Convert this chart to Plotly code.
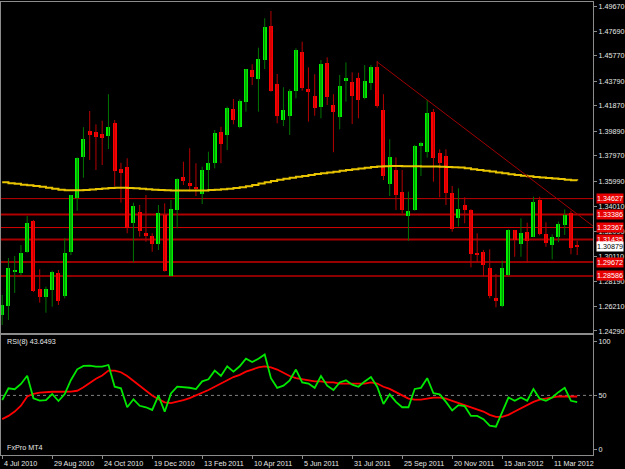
import pandas as pd
import plotly.graph_objects as go

# ---------------- data ----------------
DATES = pd.date_range('2010-07-04', periods=93, freq='7D')

OPEN = [1.2554, 1.2624, 1.2893, 1.2882, 1.3048, 1.3288, 1.2755, 1.2692, 1.2749, 1.2884,
        1.2702, 1.3048, 1.3470, 1.3788, 1.3991, 1.3983, 1.3967, 1.3954, 1.4051, 1.3694,
        1.3707, 1.3270, 1.3361, 1.3192, 1.3173, 1.3106, 1.3335, 1.2858, 1.3374, 1.3634,
        1.3583, 1.3556, 1.3497, 1.3686, 1.3743, 1.3981, 1.3960, 1.4165, 1.4024, 1.4220,
        1.4467, 1.4397, 1.4545, 1.4813, 1.4356, 1.4077, 1.4110, 1.4306, 1.4605, 1.4317,
        1.4267, 1.4181, 1.4524, 1.4194, 1.4103, 1.4389, 1.4371, 1.4407, 1.4246, 1.4368,
        1.4488, 1.4155, 1.3575, 1.3686, 1.3517, 1.3329, 1.3374, 1.3874, 1.3825, 1.4142,
        1.3817, 1.3796, 1.3504, 1.3309, 1.3413, 1.3374, 1.3038, 1.3048, 1.2923, 1.2689,
        1.2624, 1.2866, 1.3218, 1.3106, 1.3204, 1.3165, 1.3452, 1.3184, 1.3100, 1.3165,
        1.3257, 1.3353, 1.3098]
HIGH = [1.2710, 1.2999, 1.3015, 1.3100, 1.3327, 1.3296, 1.2911, 1.2775, 1.2900, 1.2905,
        1.3153, 1.3491, 1.3785, 1.4020, 1.4147, 1.4043, 1.4071, 1.4278, 1.4077, 1.3743,
        1.3778, 1.3431, 1.3413, 1.3491, 1.3192, 1.3413, 1.3426, 1.3452, 1.3621, 1.3751,
        1.3856, 1.3739, 1.3712, 1.3829, 1.3999, 1.4024, 1.4181, 1.4241, 1.4238, 1.4475,
        1.4512, 1.4641, 1.4871, 1.4928, 1.4436, 1.4332, 1.4317, 1.4637, 1.4688, 1.4488,
        1.4434, 1.4545, 1.4566, 1.4278, 1.4428, 1.4527, 1.4449, 1.4446, 1.4506, 1.4506,
        1.4538, 1.4278, 1.3926, 1.3785, 1.3686, 1.3517, 1.3882, 1.3907, 1.4233, 1.4163,
        1.3848, 1.3848, 1.3561, 1.3543, 1.3473, 1.3380, 1.3192, 1.3062, 1.3067, 1.2874,
        1.2978, 1.3223, 1.3218, 1.3309, 1.3275, 1.3478, 1.3478, 1.3278, 1.3184, 1.3283,
        1.3379, 1.3368, 1.3134]
LOW = [1.2476, 1.2515, 1.2726, 1.2866, 1.3040, 1.2733, 1.2650, 1.2572, 1.2619, 1.2632,
       1.2684, 1.3022, 1.3368, 1.3626, 1.3765, 1.3686, 1.3725, 1.3850, 1.3561, 1.3431,
       1.3192, 1.2966, 1.3165, 1.3126, 1.3048, 1.3062, 1.2892, 1.2858, 1.3231, 1.3569,
       1.3517, 1.3483, 1.3421, 1.3517, 1.3699, 1.3739, 1.3843, 1.4043, 1.4012, 1.4142,
       1.4350, 1.4142, 1.4475, 1.4298, 1.4051, 1.4030, 1.3960, 1.4246, 1.4306, 1.4064,
       1.4110, 1.4090, 1.4194, 1.3825, 1.4004, 1.4220, 1.4046, 1.4090, 1.4238, 1.4311,
       1.4173, 1.3608, 1.3483, 1.3374, 1.3348, 1.3134, 1.3368, 1.3639, 1.3783, 1.3595,
       1.3473, 1.3413, 1.3204, 1.3244, 1.3270, 1.2926, 1.2966, 1.2853, 1.2684, 1.2614,
       1.2614, 1.2858, 1.3009, 1.3009, 1.2962, 1.3161, 1.3176, 1.3087, 1.2989, 1.3122,
       1.3179, 1.3028, 1.3022]
CLOSE = [1.2632, 1.2921, 1.2900, 1.3038, 1.3275, 1.2741, 1.2692, 1.2755, 1.2890, 1.2666,
         1.3040, 1.3489, 1.3782, 1.3928, 1.3960, 1.3942, 1.3936, 1.4024, 1.3679, 1.3661,
         1.3231, 1.3405, 1.3212, 1.3178, 1.3106, 1.3353, 1.2898, 1.3379, 1.3614, 1.3600,
         1.3569, 1.3538, 1.3686, 1.3743, 1.3977, 1.3887, 1.4173, 1.4077, 1.4228, 1.4475,
         1.4415, 1.4551, 1.4801, 1.4306, 1.4108, 1.4155, 1.4306, 1.4623, 1.4329, 1.4298,
         1.4173, 1.4512, 1.4254, 1.4142, 1.4345, 1.4402, 1.4264, 1.4233, 1.4384, 1.4488,
         1.4186, 1.3639, 1.3790, 1.3491, 1.3374, 1.3366, 1.3874, 1.3900, 1.4134, 1.3778,
         1.3739, 1.3509, 1.3223, 1.3382, 1.3374, 1.3030, 1.3025, 1.2944, 1.2702, 1.2666,
         1.2919, 1.3218, 1.3140, 1.3192, 1.3132, 1.3439, 1.3184, 1.3114, 1.3161, 1.3265,
         1.3335, 1.3080, 1.3088]
MA = [1.3590, 1.3582, 1.3579, 1.3571, 1.3568, 1.3562, 1.3556, 1.3548, 1.3540, 1.3532,
      1.3528, 1.3528, 1.3528, 1.3530, 1.3534, 1.3538, 1.3542, 1.3546, 1.3548, 1.3548,
      1.3546, 1.3544, 1.3540, 1.3536, 1.3532, 1.3530, 1.3528, 1.3527, 1.3527, 1.3527,
      1.3527, 1.3527, 1.3527, 1.3530, 1.3532, 1.3535, 1.3540, 1.3545, 1.3552, 1.3560,
      1.3570, 1.3580, 1.3590, 1.3600, 1.3610, 1.3618, 1.3625, 1.3633, 1.3640, 1.3648,
      1.3655, 1.3660, 1.3667, 1.3673, 1.3680, 1.3686, 1.3692, 1.3698, 1.3704, 1.3709,
      1.3713, 1.3716, 1.3717, 1.3717, 1.3716, 1.3716, 1.3715, 1.3714, 1.3714, 1.3713,
      1.3712, 1.3710, 1.3708, 1.3705, 1.3700, 1.3693, 1.3687, 1.3680, 1.3674, 1.3667,
      1.3660, 1.3653, 1.3647, 1.3641, 1.3637, 1.3632, 1.3628, 1.3624, 1.3619, 1.3615,
      1.3611, 1.3607, 1.3604]
RSI = [45.7, 56.6, 55.7, 60.6, 68.3, 47.3, 45.1, 45.7, 51.3, 44.8,
       51.3, 64.3, 74.2, 77.3, 77.6, 76.6, 76.6, 78.2, 58.1, 56.6,
       39.0, 46.4, 40.4, 39.0, 36.5, 49.7, 34.9, 51.9, 58.1, 57.8,
       57.1, 55.9, 63.0, 65.0, 73.0, 68.0, 77.0, 72.0, 77.0, 84.0,
       81.0, 84.0, 88.0, 66.0, 57.0, 59.0, 64.0, 74.0, 62.0, 61.0,
       57.0, 68.0, 59.0, 55.0, 62.0, 64.0, 60.0, 58.0, 63.0, 67.0,
       58.0, 42.0, 51.0, 44.0, 39.0, 39.0, 56.0, 57.0, 66.0, 52.0,
       51.0, 44.0, 36.0, 41.0, 40.0, 31.0, 31.0, 28.0, 22.0, 21.0,
       34.0, 48.0, 45.0, 48.0, 45.0, 56.0, 47.0, 45.0, 48.0, 53.0,
       57.0, 45.0, 43.6493]
RSI_SIGNAL = [28.0, 31.0, 35.0, 40.5, 49.0, 51.5, 52.5, 53.2, 53.4, 53.4,
              53.3, 53.5, 54.3, 57.5, 61.5, 65.5, 68.5, 73.0, 73.0, 71.5,
              68.0, 63.6, 59.0, 54.5, 50.0, 46.5, 43.5, 42.8, 44.0, 45.7,
              47.5, 49.8, 52.0, 55.0, 58.0, 61.0, 64.0, 67.0, 69.0, 72.0,
              74.0, 76.0, 77.0, 76.0, 74.0, 71.0, 68.0, 66.0, 65.0, 64.0,
              63.0, 63.0, 62.0, 62.0, 61.0, 61.0, 61.0, 61.0, 61.0, 62.0,
              61.0, 58.0, 56.0, 53.0, 50.0, 47.0, 46.0, 46.0, 47.0, 48.0,
              48.0, 47.0, 45.0, 43.0, 41.0, 39.0, 37.0, 35.0, 32.0, 30.0,
              30.0, 32.0, 35.0, 38.0, 41.0, 44.0, 46.0, 47.0, 48.0, 49.0,
              49.0, 49.0, 49.0]

LEVELS = [1.34627, 1.33386, 1.32367, 1.31435, 1.29672, 1.28586]
LAST_PRICE = 1.30879
TREND_DATES = ['2011-08-28', '2011-10-23']
TREND_PRICES = [1.4530, 1.4233]

PRICE_TICKS = [1.49670, 1.47690, 1.45770, 1.43790, 1.41870, 1.39890, 1.37970,
               1.35990, 1.34010, 1.32090, 1.30110, 1.28190, 1.26210, 1.24290]
RSI_TICKS = [0, 50, 100]
TIME_TICKS = ['2010-07-04', '2010-08-29', '2010-10-24', '2010-12-19', '2011-02-13',
              '2011-04-10', '2011-06-05', '2011-07-31', '2011-09-25', '2011-11-20',
              '2012-01-15', '2012-03-11']
TIME_LABELS = ['4 Jul 2010', '29 Aug 2010', '24 Oct 2010', '19 Dec 2010', '13 Feb 2011',
               '10 Apr 2011', '5 Jun 2011', '31 Jul 2011', '25 Sep 2011', '20 Nov 2011',
               '15 Jan 2012', '11 Mar 2012']

# ---------------- styles ----------------
FONT = 'Liberation Sans'
FS = 7.2
TXT = '#E8E8E8'
FRAME = '#8C8C8C'
BULL_BODY, BEAR_BODY = '#00F000', '#FF0000'
BULL_WICK, BEAR_WICK = '#007400', '#B40000'
LEVEL_COLORS = ['#C00000', '#B00000', '#D80000', '#A80000', '#980000', '#8C0000']
LEVEL_WIDTHS = [1, 2, 1, 2, 2, 2]
X_RANGE = ['2010-07-02 15:45', '2012-04-25 16:48']
Y_RANGE = [1.24132, 1.49983]
RSI_RANGE = [-5.29, 106.03]
BODY_MS = 4.48 * 86400000

fig = go.Figure()

# wicks
for up, col in ((True, BULL_WICK), (False, BEAR_WICK)):
    xs, ys = [], []
    for d, o, h, l, c in zip(DATES, OPEN, HIGH, LOW, CLOSE):
        if (c >= o) == up:
            xs += [d, d, None]
            ys += [l, h, None]
    fig.add_trace(go.Scatter(x=xs, y=ys, mode='lines', line=dict(color=col, width=1),
                             hoverinfo='skip', showlegend=False, xaxis='x', yaxis='y'))

# bodies
bases = [min(o, c) for o, c in zip(OPEN, CLOSE)]
heights = [max(abs(c - o), 0.0008) for o, c in zip(OPEN, CLOSE)]
colors = [BULL_BODY if c >= o else BEAR_BODY for o, c in zip(OPEN, CLOSE)]
fig.add_trace(go.Bar(x=DATES, y=heights, base=bases, width=BODY_MS,
                     marker=dict(color=colors, line=dict(width=0)),
                     showlegend=False, xaxis='x', yaxis='y'))

# moving average
fig.add_trace(go.Scatter(x=DATES, y=MA, mode='lines', line=dict(color='#E8C400', width=2, shape='hv'),
                         showlegend=False, xaxis='x', yaxis='y'))

# RSI
fig.add_trace(go.Scatter(x=DATES, y=RSI_SIGNAL, mode='lines', line=dict(color='#FF0000', width=1.8),
                         showlegend=False, xaxis='x2', yaxis='y2'))
fig.add_trace(go.Scatter(x=DATES, y=RSI, mode='lines', line=dict(color='#00E800', width=1.8),
                         showlegend=False, xaxis='x2', yaxis='y2'))

shapes = []
for lv, col, w in zip(LEVELS, LEVEL_COLORS, LEVEL_WIDTHS):
    shapes.append(dict(type='line', xref='x domain', yref='y', x0=0, x1=1, y0=lv, y1=lv,
                       line=dict(color=col, width=w), layer='below'))
# trend line extended to the right edge
t0, t1 = pd.Timestamp(TREND_DATES[0]), pd.Timestamp(TREND_DATES[1])
slope = (TREND_PRICES[1] - TREND_PRICES[0]) / (t1 - t0).days
tend = pd.Timestamp(X_RANGE[1])
pend = TREND_PRICES[0] + slope * (tend - t0).total_seconds() / 86400
shapes.append(dict(type='line', xref='x', yref='y', x0=t0, y0=TREND_PRICES[0], x1=tend, y1=pend,
                   line=dict(color='#A00000', width=1)))
shapes.append(dict(type='line', xref='x2 domain', yref='y2', x0=0, x1=1, y0=50, y1=50,
                   line=dict(color='#808080', width=1, dash='dot'), layer='below'))

annotations = []
for lv in LEVELS:
    annotations.append(dict(xref='paper', x=1, xanchor='left', xshift=3, yref='y', y=lv,
                            text=f'{lv:.5f}', showarrow=False, bgcolor='#E80000',
                            font=dict(family=FONT, size=FS, color='#FFFFFF'), borderpad=0))
annotations.append(dict(xref='paper', x=1, xanchor='left', xshift=3, yref='y', y=LAST_PRICE,
                        text=f'{LAST_PRICE:.5f}', showarrow=False, bgcolor='#FFFFFF',
                        font=dict(family=FONT, size=FS, color='#000000'), borderpad=0))
for d, lab in zip(TIME_TICKS, TIME_LABELS):
    annotations.append(dict(xref='x2', x=d, xanchor='left', xshift=0, yref='paper', y=0,
                            yanchor='top', yshift=-2, text=lab, showarrow=False,
                            font=dict(family=FONT, size=FS, color=TXT)))
annotations.append(dict(xref='paper', x=0, xanchor='left', xshift=4, yref='y2 domain', y=1,
                        yanchor='top', yshift=0, text=f'RSI(8) {RSI[-1]:.4f}', showarrow=False,
                        font=dict(family=FONT, size=FS, color=TXT)))
annotations.append(dict(xref='paper', x=0, xanchor='left', xshift=4, yref='y2 domain', y=0,
                        yanchor='bottom', yshift=1, text='FxPro MT4', showarrow=False,
                        font=dict(family=FONT, size=FS, color=TXT)))

axis_common = dict(showgrid=False, zeroline=False, showline=True, linecolor=FRAME, linewidth=1,
                   mirror=True)
fig.update_layout(
    width=625, height=469,
    margin=dict(l=1, r=32, t=2, b=14),
    paper_bgcolor='#000000', plot_bgcolor='#000000',
    barmode='overlay', bargap=0,
    showlegend=False,
    font=dict(family=FONT, size=FS, color=TXT),
    xaxis=dict(domain=[0, 1], anchor='y', range=X_RANGE, type='date', showticklabels=False,
               ticks='', matches='x2', **axis_common),
    xaxis2=dict(domain=[0, 1], anchor='y2', range=X_RANGE, type='date', showticklabels=False,
                ticks='outside', ticklen=3, tickcolor=FRAME, tickvals=TIME_TICKS, **axis_common),
    yaxis=dict(domain=[0.26932, 1], anchor='x', side='right', range=Y_RANGE,
               tickvals=PRICE_TICKS, ticktext=[f'{v:.5f}' for v in PRICE_TICKS],
               ticks='outside', ticklen=3, tickcolor=FRAME,
               tickfont=dict(family=FONT, size=FS, color=TXT), **axis_common),
    yaxis2=dict(domain=[0, 0.2649], anchor='x2', side='right', range=RSI_RANGE,
                tickvals=RSI_TICKS, ticktext=[str(v) for v in RSI_TICKS],
                ticks='outside', ticklen=3, tickcolor=FRAME,
                tickfont=dict(family=FONT, size=FS, color=TXT), **axis_common),
    shapes=shapes, annotations=annotations,
)

fig.write_html('out.html')
